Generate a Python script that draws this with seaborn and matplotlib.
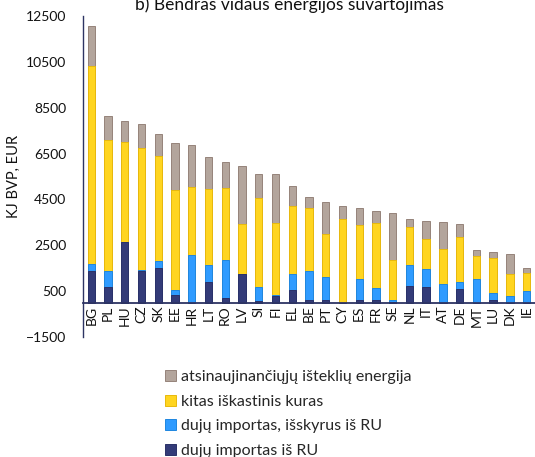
import numpy as np
import matplotlib
matplotlib.use("Agg")
import matplotlib.pyplot as plt
import seaborn as sns
from matplotlib.patches import Patch

# values (KJ per BVP, EUR)
countries = ["BG", "PL", "HU", "CZ", "SK", "EE", "HR", "LT", "RO", "LV", "SI", "FI", "EL",
             "BE", "PT", "CY", "ES", "FR", "SE", "NL", "IT", "AT", "DE", "MT", "LU", "DK", "IE"]
gas_ru = [1380, 690, 2640, 1370, 1530, 310, 0, 900, 180, 1240, 60, 270, 530,
          120, 110, 0, 120, 120, 40, 730, 660, 0, 600, 0, 120, 0, 0]
gas_other = [320, 680, 0, 40, 290, 230, 2080, 740, 1670, 0, 600, 70, 720,
             1260, 990, 0, 910, 520, 80, 900, 810, 790, 300, 1010, 280, 280, 510]
fossil = [8600, 5730, 4350, 5350, 4570, 4360, 2940, 3310, 3140, 2190, 3900, 3130, 2970,
          2760, 1890, 3630, 2370, 2830, 1740, 1650, 1300, 1550, 1940, 1040, 1540, 960, 760]
renew = [1770, 1040, 910, 1010, 970, 2060, 1860, 1420, 1150, 2520, 1060, 2130, 870,
         460, 1380, 570, 740, 540, 2060, 380, 770, 1190, 600, 230, 270, 860, 260]

labels = ["atsinaujinančiųjų išteklių energija", "kitas iškastinis kuras",
          "dujų importas, išskyrus iš RU", "dujų importas iš RU"]
yticks = [-1500, 500, 2500, 4500, 6500, 8500, 10500, 12500]

sns.set_theme(style="white")
plt.rcParams["font.family"] = ["Lato", "DejaVu Sans"]

fills = ["#b3a59c", "#ffd520", "#2f9bff", "#333b78"]
edges = ["#95837a", "#e8b90c", "#1f86e0", "#2a3168"]

# cumulative heights, drawn tallest first so each layer covers the one below
c1 = np.array(gas_ru)
c2 = c1 + np.array(gas_other)
c3 = c2 + np.array(fossil)
c4 = c3 + np.array(renew)
layers = [c4, c3, c2, c1]

fig = plt.figure(figsize=(5.35, 4.57), dpi=100)
ax = fig.add_axes([0.155, 0.2626, 0.845, 0.7024])

for h, fc, ec in zip(layers, fills, edges):
    sns.barplot(x=countries, y=h, color=fc, edgecolor=ec, linewidth=0.7,
                width=0.44, saturation=1, ax=ax)

ax.set_ylim(-1500, 12500)
ax.set_xlim(-0.5, len(countries) - 0.5)
ax.set_yticks(yticks)
ax.set_ylabel("KJ BVP, EUR", fontsize=10.5, color="#111111")
ax.yaxis.set_label_coords(-0.137, 0.5)
ax.set_xlabel("")

for s in ["top", "right"]:
    ax.spines[s].set_visible(False)
ax.spines["bottom"].set_position(("data", 0))
ax.spines["bottom"].set_color("#2d3463")
ax.spines["bottom"].set_linewidth(1.3)
ax.spines["left"].set_color("#2d3463")
ax.spines["left"].set_linewidth(1.0)

ax.tick_params(axis="y", length=0, pad=12, labelsize=10, labelcolor="#111111")
ax.tick_params(axis="x", length=0, pad=2, labelsize=10, labelcolor="#111111",
               labelrotation=90)

fig.text(0.541, 0.979, "b) Bendras vidaus energijos suvartojimas",
         ha="center", va="baseline", fontsize=12.5, color="#111111")

handles = [Patch(facecolor=fc, edgecolor=ec, linewidth=0.7) for fc, ec in zip(fills, edges)]
fig.legend(handles, labels, loc="upper left", bbox_to_anchor=(0.308, 0.1905),
           frameon=False, fontsize=11.5, handlelength=0.7, handleheight=0.7,
           handletextpad=0.3, labelspacing=0.65, borderaxespad=0, borderpad=0)

fig.savefig("out.png", dpi=100)
